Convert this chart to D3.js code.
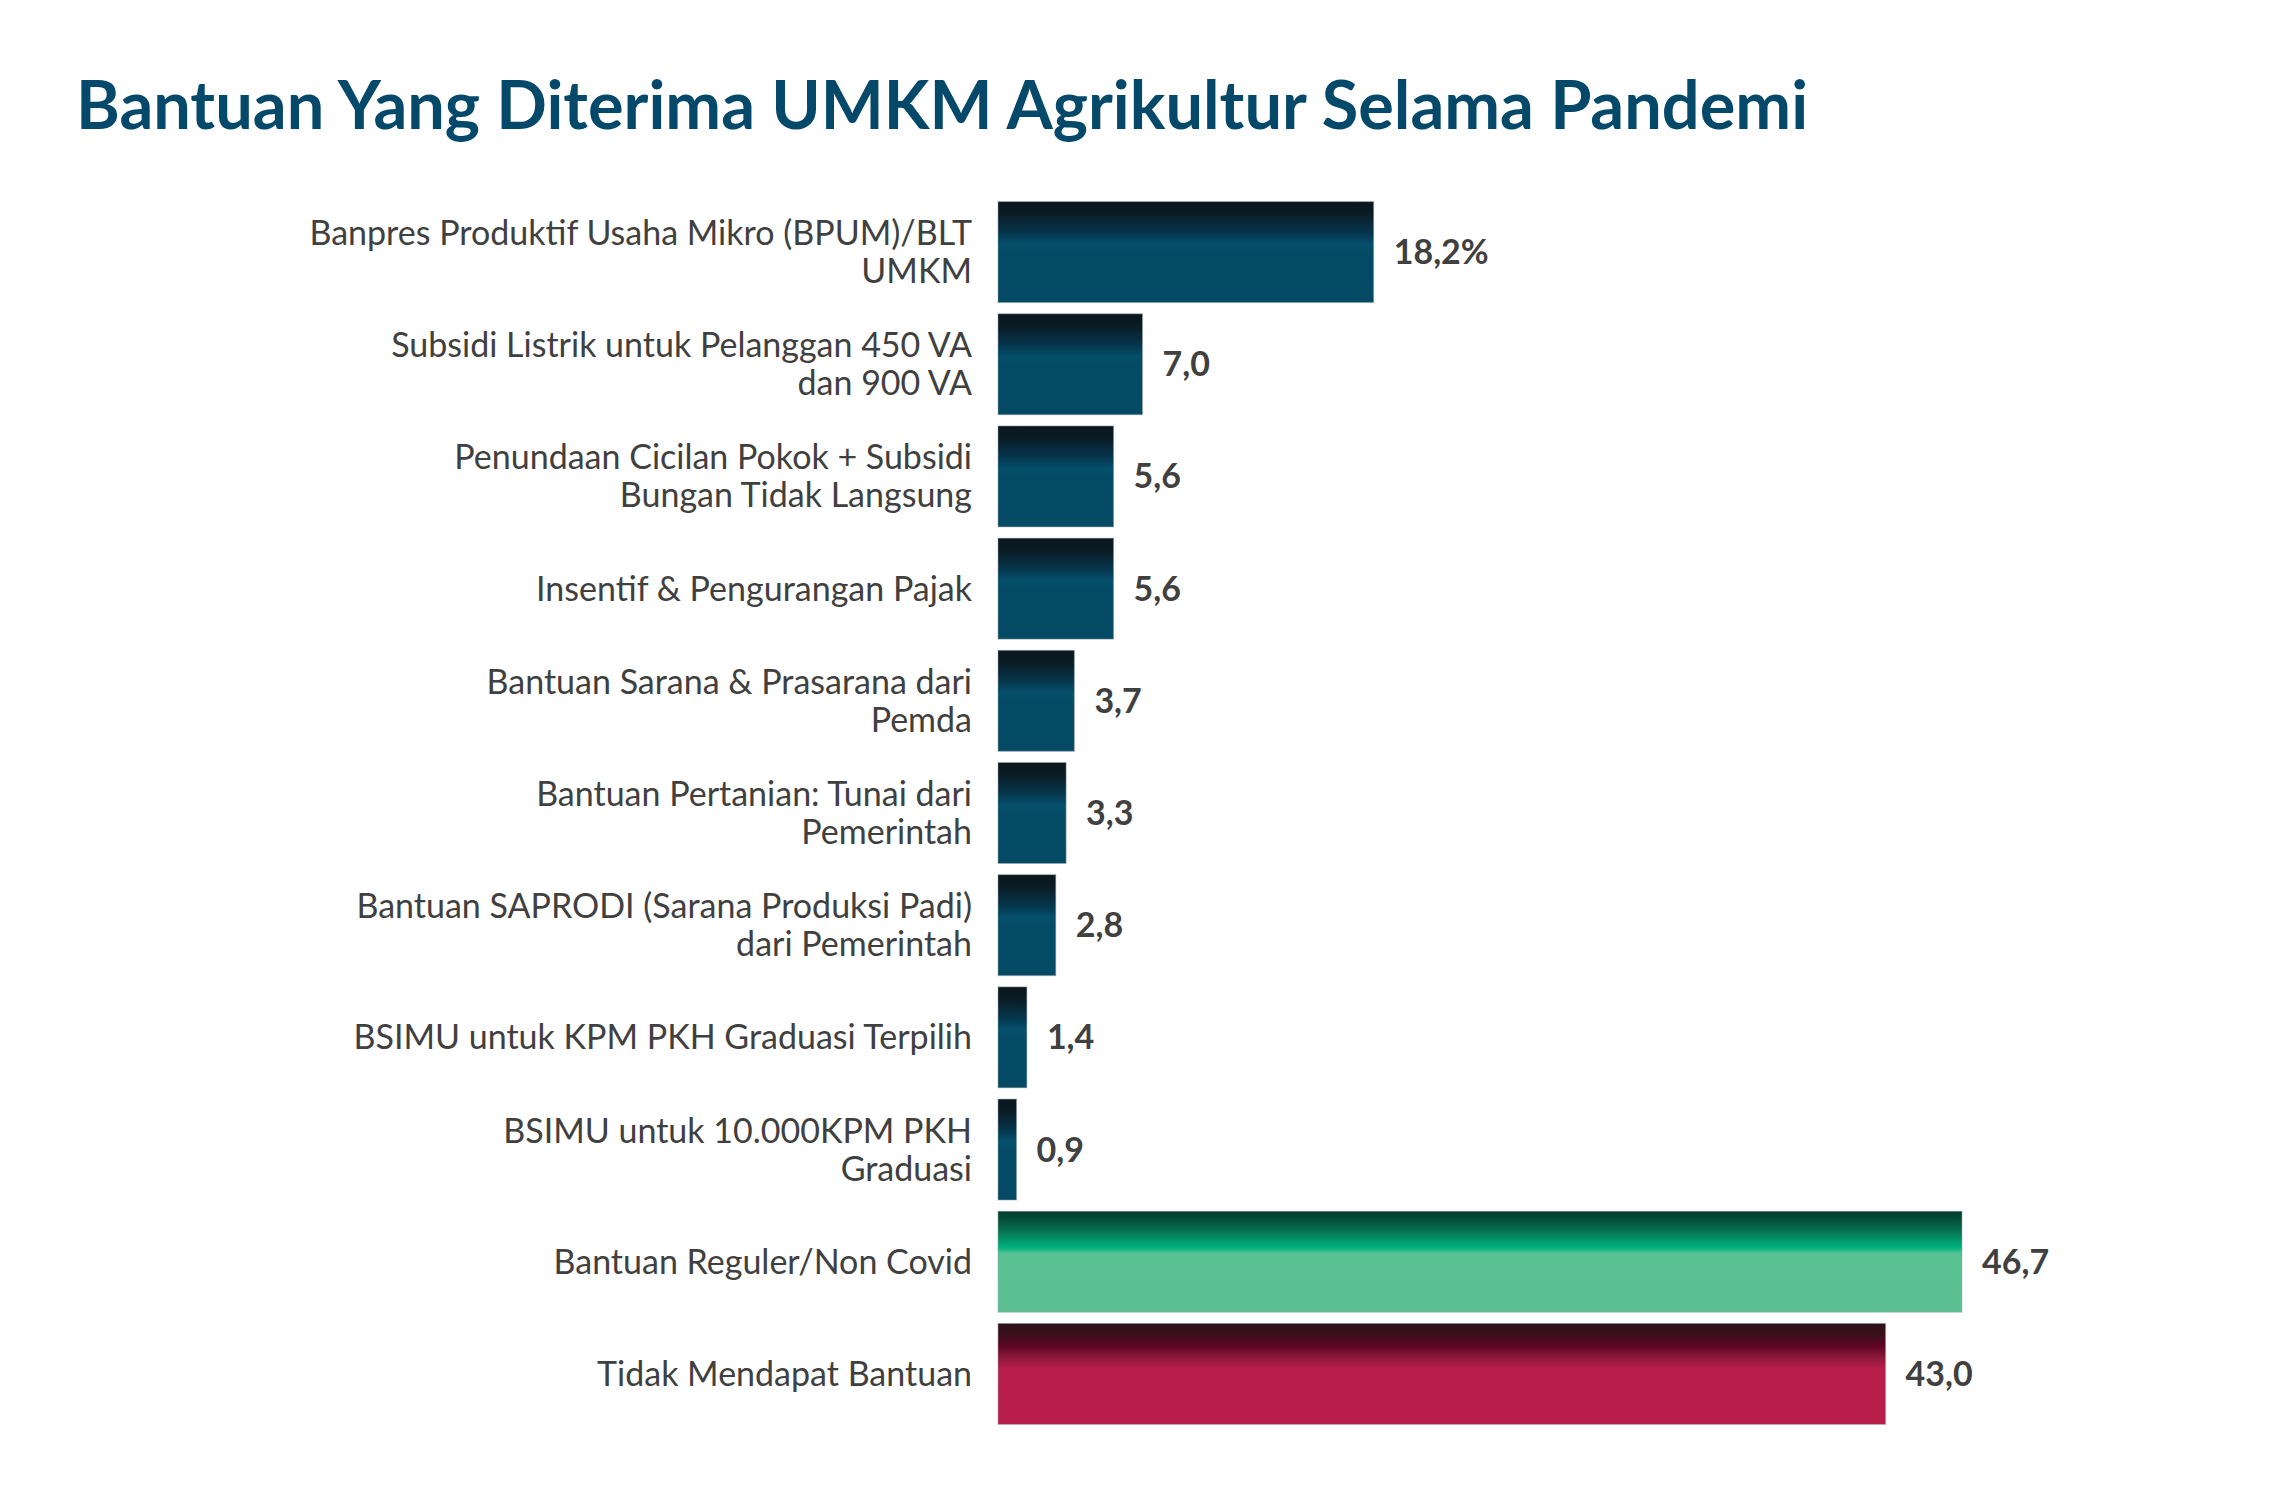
<!DOCTYPE html>
<html>
<head>
<meta charset="utf-8">
<script src="https://cdn.jsdelivr.net/npm/d3@7"></script>
<style>
  html, body { margin: 0; padding: 0; background: #ffffff; }
  svg { display: block; }
</style>
</head>
<body>
<script>
const title = "Bantuan Yang Diterima UMKM Agrikultur Selama Pandemi";
const categories = [
  ["Banpres Produktif Usaha Mikro (BPUM)/BLT", "UMKM"],
  ["Subsidi Listrik untuk Pelanggan 450 VA", "dan 900 VA"],
  ["Penundaan Cicilan Pokok + Subsidi", "Bungan Tidak Langsung"],
  ["Insentif & Pengurangan Pajak"],
  ["Bantuan Sarana & Prasarana dari", "Pemda"],
  ["Bantuan Pertanian: Tunai dari", "Pemerintah"],
  ["Bantuan SAPRODI (Sarana Produksi Padi)", "dari Pemerintah"],
  ["BSIMU untuk KPM PKH Graduasi Terpilih"],
  ["BSIMU untuk 10.000KPM PKH", "Graduasi"],
  ["Bantuan Reguler/Non Covid"],
  ["Tidak Mendapat Bantuan"]
];
const values = [18.2, 7.0, 5.6, 5.6, 3.7, 3.3, 2.8, 1.4, 0.9, 46.7, 43.0];
const valueLabels = ["18,2%", "7,0", "5,6", "5,6", "3,7", "3,3", "2,8", "1,4", "0,9", "46,7", "43,0"];
const groups = ["covid", "covid", "covid", "covid", "covid", "covid", "covid", "covid", "covid", "regular", "none"];

const W = 2292, H = 1500;
const svg = d3.select("body").append("svg").attr("width", W).attr("height", H);

const defs = svg.append("defs");
const gradStops = {
  covid: [[0, "#0a161c"], [0.12, "#0b1c25"], [0.3, "#05344a"], [0.42, "#044f6b"], [0.5, "#044b66"], [1, "#044a64"]],
  regular: [[0, "#033a2a"], [0.15, "#066244"], [0.36, "#00b27b"], [0.42, "#59c293"], [1, "#5bbf91"]],
  none: [[0, "#2d1219"], [0.12, "#3d0f1d"], [0.22, "#5c0423"], [0.34, "#8c193b"], [0.45, "#b81e4a"], [1, "#b91e4a"]]
};
Object.entries(gradStops).forEach(([k, stops]) => {
  const g = defs.append("linearGradient").attr("id", "g-" + k)
    .attr("x1", 0).attr("y1", 0).attr("x2", 0).attr("y2", 1);
  stops.forEach(([o, c]) => g.append("stop").attr("offset", o).attr("stop-color", c));
});

const idx = d3.range(values.length);
const x = d3.scaleLinear().domain([0, 46.7]).range([998, 1962]);
const y = d3.scaleBand().domain(idx).range([196, 1430]).paddingInner(0.1).paddingOuter(0.05);

svg.append("text")
  .attr("x", 76).attr("y", 129)
  .attr("font-family", "Lato").attr("font-weight", 700)
  .attr("font-size", 66.7).attr("fill", "#04496a")
  .text(title);

svg.append("g").selectAll("rect").data(idx).join("rect")
  .attr("x", x(0))
  .attr("y", i => y(i))
  .attr("width", i => x(values[i]) - x(0))
  .attr("height", y.bandwidth())
  .attr("fill", i => "url(#g-" + groups[i] + ")")
  .attr("stroke", "#9aa4ab").attr("stroke-opacity", 0.5).attr("stroke-width", 1);

const lineH = 38;
const labels = svg.append("g").selectAll("text").data(idx).join("text")
  .attr("x", 972)
  .attr("text-anchor", "end")
  .attr("font-family", "Lato").attr("font-size", 34).attr("fill", "#404040")
  .attr("y", i => y(i) + y.bandwidth() / 2);
labels.each(function(i) {
  const lines = categories[i];
  const n = lines.length;
  d3.select(this).selectAll("tspan").data(lines).join("tspan")
    .attr("x", 972)
    .attr("dy", (d, j) => j === 0 ? ((-(n - 1) / 2) * lineH + 12) : lineH)
    .text(d => d);
});

svg.append("g").selectAll("text").data(idx).join("text")
  .attr("x", i => x(values[i]) + 20)
  .attr("y", i => y(i) + y.bandwidth() / 2 + 12)
  .attr("font-family", "Lato").attr("font-weight", 700)
  .attr("font-size", 34).attr("fill", "#404040")
  .text(i => valueLabels[i]);
</script>
</body>
</html>
